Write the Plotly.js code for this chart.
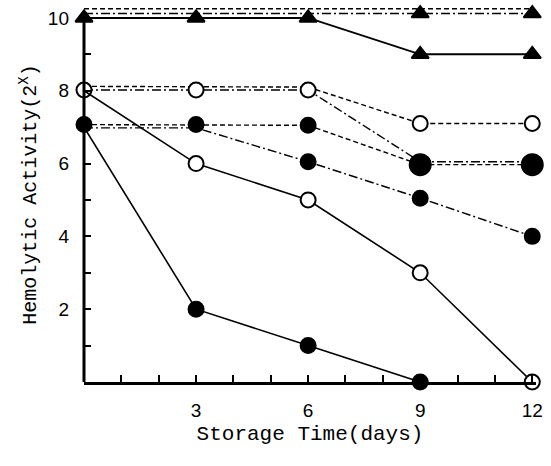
<!DOCTYPE html>
<html><head><meta charset="utf-8">
<script src="https://cdn.plot.ly/plotly-3.0.1.min.js"></script>
<style>body{margin:0;background:#fff}#c{width:551px;height:466px}</style>
</head><body><div id="c"></div>
<script>
const days = [0, 3, 6, 9, 12];
// triangles (filled)
const triSolid   = [10, 10, 10, 9, 9];
const triDashed  = [10.25, 10.25, 10.25, 10.25, 10.25];
const triDashDot = [10.12, 10.12, 10.12, 10.12, 10.12];
// open circles
const openSolid   = [8, 6, 5, 3, 0];
const openDashed  = [8.12, 8.12, 8.1, 7.1, 7.1];
const openDashDot = [8.02, 8.02, 8.02, 6.05, 6.05];
// filled circles
const fillSolidDays = [0, 3, 6, 9];
const fillSolid   = [7, 2, 1, 0];
const fillDashed  = [7.07, 7.07, 7.05, 5.97, 5.97];
const fillDashDot = [6.98, 6.98, 6.05, 5.05, 4];

const xTickVals = [1,2,3,4,5,6,7,8,9,10,11,12];
const xTickText = ['','','3','','','6','','','9','','','12'];
const yTickVals = [1,2,3,4,5,6,7,8,9,10];
const yTickText = ['','2','','4','','6','','8','','10'];

const DASH = '5px,3px';
const DASHDOT = '9px,3px,2px,3px';
function tr(x, y, dash, sym, fill, w, sizes) {
  const t = {x: x, y: y, type: 'scatter', mode: sym ? 'lines+markers' : 'lines',
    cliponaxis: false,
    line: {color: '#000', width: w || 1.4, dash: dash},
    showlegend: false, hoverinfo: 'skip'};
  if (sym) t.marker = {symbol: sym, size: sizes || 15, opacity: 1,
      color: fill, line: {color: '#000', width: 2}};
  return t;
}
const data = [
  tr(days, triDashed, DASH, null),
  tr(days, triDashDot, DASHDOT, 'triangle-up', '#000', 1.4, [0, 0, 0, 15, 15]),
  tr(days, triSolid, 'solid', 'triangle-up', '#000', 2),
  tr(days, openDashed, DASH, 'circle', '#fff', 1.4, [0, 0, 0, 15, 15]),
  tr(days, openDashDot, DASHDOT, 'circle', '#fff', 1.4, [15, 15, 15, 0, 0]),
  tr(days, fillDashDot, DASHDOT, 'circle', '#000', 1.4, [0, 0, 15, 15, 15]),
  tr(days, fillDashed, DASH, 'circle', '#000', 1.4, [15, 15, 15, 21, 21]),
  tr(days, openSolid, 'solid', 'circle', '#fff', 1.6, [0, 15, 15, 15, 15]),
  tr(fillSolidDays, fillSolid, 'solid', 'circle', '#000', 1.6, [0, 15, 15, 15])
];
const layout = {
  width: 551, height: 466,
  margin: {l: 84, r: 15, t: 7, b: 84},
  paper_bgcolor: '#fff', plot_bgcolor: '#fff',
  font: {family: 'Liberation Sans, sans-serif', color: '#000'},
  xaxis: {range: [0, 12.1], tickvals: xTickVals, ticktext: xTickText,
    ticks: 'inside', ticklen: 7, tickwidth: 2, tickcolor: '#000',
    showgrid: false, zeroline: false, showline: true, linewidth: 3, linecolor: '#000',
    ticklabelstandoff: 9,
    tickfont: {size: 19, family: 'Liberation Sans, sans-serif'},
    title: {text: 'Storage Time(days)', standoff: 6,
      font: {size: 21, family: 'Liberation Mono, monospace'}}},
  yaxis: {range: [0, 10.3], tickvals: yTickVals, ticktext: yTickText,
    ticks: 'inside', ticklen: 7, tickwidth: 2, tickcolor: '#000',
    showgrid: false, zeroline: false, showline: false,
    ticklabelstandoff: 14,
    tickfont: {size: 19, family: 'Liberation Sans, sans-serif'},
    title: {text: 'Hemolytic Activity(2<sup>X</sup>)', standoff: 5,
      font: {size: 20, family: 'Liberation Mono, monospace'}}},
  shapes: [{type: 'line', xref: 'paper', yref: 'y', x0: 0, x1: 0, y0: 0, y1: 10,
    line: {color: '#000', width: 3}}]
};
Plotly.newPlot('c', data, layout, {staticPlot: true, displayModeBar: false});
</script></body></html>
